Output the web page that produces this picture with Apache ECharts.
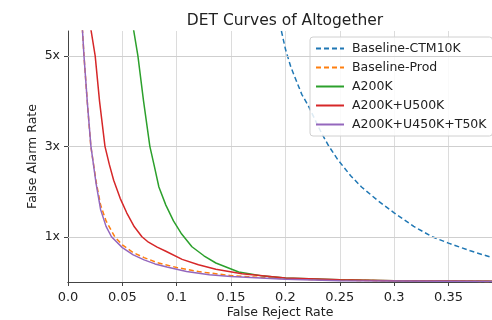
<!DOCTYPE html>
<html>
<head>
<meta charset="utf-8">
<script src="https://cdn.jsdelivr.net/npm/echarts@6/dist/echarts.min.js"></script>
<style>html,body{margin:0;padding:0;background:#fff}#c{width:492px;height:320px}</style>
</head>
<body>
<div id="c"></div>
<script>
const seriesNames = ['Baseline-CTM10K', 'Baseline-Prod', 'A200K', 'A200K+U500K', 'A200K+U450K+T50K'];
const baselineCTM10K = [[0.19,6.6],[0.196,5.58],[0.2,5.15],[0.205,4.75],[0.21,4.45],[0.215,4.15],[0.221,3.9],[0.227,3.6],[0.233,3.3],[0.24,3.0],[0.248,2.71],[0.26,2.35],[0.27,2.1],[0.285,1.8],[0.3,1.53],[0.318,1.23],[0.335,1.0],[0.35,0.86],[0.37,0.69],[0.39,0.54]];
const baselineProd = [[0.011,6.5],[0.0147,5],[0.018,3.9],[0.021,3.0],[0.026,2.2],[0.03,1.7],[0.035,1.35],[0.043,1.0],[0.05,0.82],[0.06,0.65],[0.07,0.54],[0.082,0.43],[0.1,0.32],[0.12,0.23],[0.15,0.14],[0.2,0.07],[0.25,0.04],[0.3,0.025],[0.39,0.012]];
const a200k = [[0.057,6.5],[0.0603,5.58],[0.0643,5],[0.0695,4.0],[0.0753,3],[0.0795,2.55],[0.0836,2.1],[0.09,1.7],[0.097,1.35],[0.104,1.08],[0.114,0.78],[0.125,0.58],[0.136,0.42],[0.157,0.22],[0.18,0.13],[0.2,0.09],[0.25,0.05],[0.3,0.03],[0.39,0.015]];
const a200kU500k = [[0.019,6.5],[0.0211,5.58],[0.025,5],[0.029,4.0],[0.034,3],[0.038,2.6],[0.042,2.25],[0.048,1.85],[0.054,1.53],[0.061,1.22],[0.068,1.0],[0.074,0.88],[0.082,0.77],[0.09,0.68],[0.105,0.5],[0.12,0.38],[0.136,0.28],[0.16,0.18],[0.2,0.09],[0.25,0.05],[0.3,0.03],[0.39,0.015]];
const a200kU450kT50k = [[0.011,6.5],[0.0147,5],[0.018,3.9],[0.0211,3],[0.0257,2.2],[0.03,1.6],[0.035,1.23],[0.04,1.0],[0.05,0.76],[0.06,0.6],[0.07,0.49],[0.08,0.4],[0.091,0.33],[0.109,0.23],[0.13,0.16],[0.15,0.12],[0.2,0.06],[0.25,0.03],[0.3,0.02],[0.39,0.01]];
const yTickValues = [1, 3, 5];
const yTickLabels = ['1x', '3x', '5x'];
const xTickStep = 0.05;

const colors = ['#1f77b4', '#ff7f0e', '#2ca02c', '#d62728', '#9467bd'];
const dataSets = [baselineCTM10K, baselineProd, a200k, a200kU500k, a200kU450kT50k];
const dashed = [true, true, false, false, false];
const font = 'DejaVu Sans';
const txt = '#222';

const series = seriesNames.map((n, i) => ({
  name: n, type: 'line', data: dataSets[i], symbol: 'none',
  xAxisIndex: 0, yAxisIndex: 0, z: 3 + i,
  lineStyle: { color: colors[i], width: 1.5, type: dashed[i] ? [5, 3] : 'solid' },
  itemStyle: { color: colors[i] }
}));
series.push({
  type: 'line', data: [], xAxisIndex: 0, yAxisIndex: 0, silent: true,
  markLine: { silent: true, symbol: 'none', label: { show: false },
    lineStyle: { color: '#cfcfcf', width: 1, type: 'solid' },
    data: yTickValues.map(v => ({ yAxis: v })) },
  z: 1
});

const chart = echarts.init(document.getElementById('c'), null, { renderer: 'canvas' });
chart.setOption({
  animation: false,
  backgroundColor: '#fff',
  title: { text: 'DET Curves of Altogether', left: 280, top: 8, textAlign: 'center',
    textStyle: { fontFamily: font, fontSize: 15.5, fontWeight: 'normal', color: txt } },
  grid: { left: 68, right: 0, top: 31, bottom: 38, containLabel: false, outerBoundsMode: 'none' },
  legend: {
    orient: 'vertical', left: 310, top: 37, padding: [5, 6, 5, 5],
    itemWidth: 28, itemHeight: 14, itemGap: 6,
    backgroundColor: 'rgba(255,255,255,0.85)', borderColor: '#d0d0d0', borderWidth: 1, borderRadius: 3,
    data: seriesNames,
    itemStyle: { opacity: 0 },
    textStyle: { fontFamily: font, fontSize: 12.5, color: txt, padding: [0, 0, 0, 3] }
  },
  xAxis: [{
    type: 'value', min: 0, max: 0.39, interval: xTickStep,
    name: 'False Reject Rate', nameLocation: 'middle', nameGap: 24, nameMoveOverlap: false,
    nameTextStyle: { fontFamily: font, fontSize: 12.5, color: txt },
    axisLine: { show: true, onZero: false, lineStyle: { color: '#444', width: 1 } },
    axisTick: { show: true, inside: false, length: 4, lineStyle: { color: '#444' } },
    axisLabel: { fontFamily: font, fontSize: 13, color: txt, margin: 9, showMaxLabel: false,
      formatter: v => { const k = Math.round(v / xTickStep); if (Math.abs(k * xTickStep - v) > 1e-6) return ''; return v === 0 ? '0.0' : String(+v.toFixed(2)); } },
    splitLine: { show: true, lineStyle: { color: '#dcdcdc', width: 1 } }
  }, {
    type: 'value', position: 'top', min: 0, max: 0.39,
    axisLine: { show: true, lineStyle: { color: '#444', width: 1 } },
    axisTick: { show: false }, axisLabel: { show: false }, splitLine: { show: false }
  }],
  yAxis: {
    type: 'value', min: 0, max: 5.55,
    name: 'False Alarm Rate', nameLocation: 'middle', nameGap: 29, nameMoveOverlap: false,
    nameTextStyle: { fontFamily: font, fontSize: 12.5, color: txt },
    axisLine: { show: true, lineStyle: { color: '#444', width: 1 } },
    axisTick: { show: true, inside: false, length: 4, customValues: yTickValues, lineStyle: { color: '#444' } },
    axisLabel: { fontFamily: font, fontSize: 12.5, color: txt, margin: 8, customValues: yTickValues,
      formatter: v => { const i = yTickValues.indexOf(Math.round(v)); return i >= 0 ? yTickLabels[i] : ''; } },
    splitLine: { show: false }
  },
  series: series
});
</script>
</body>
</html>
